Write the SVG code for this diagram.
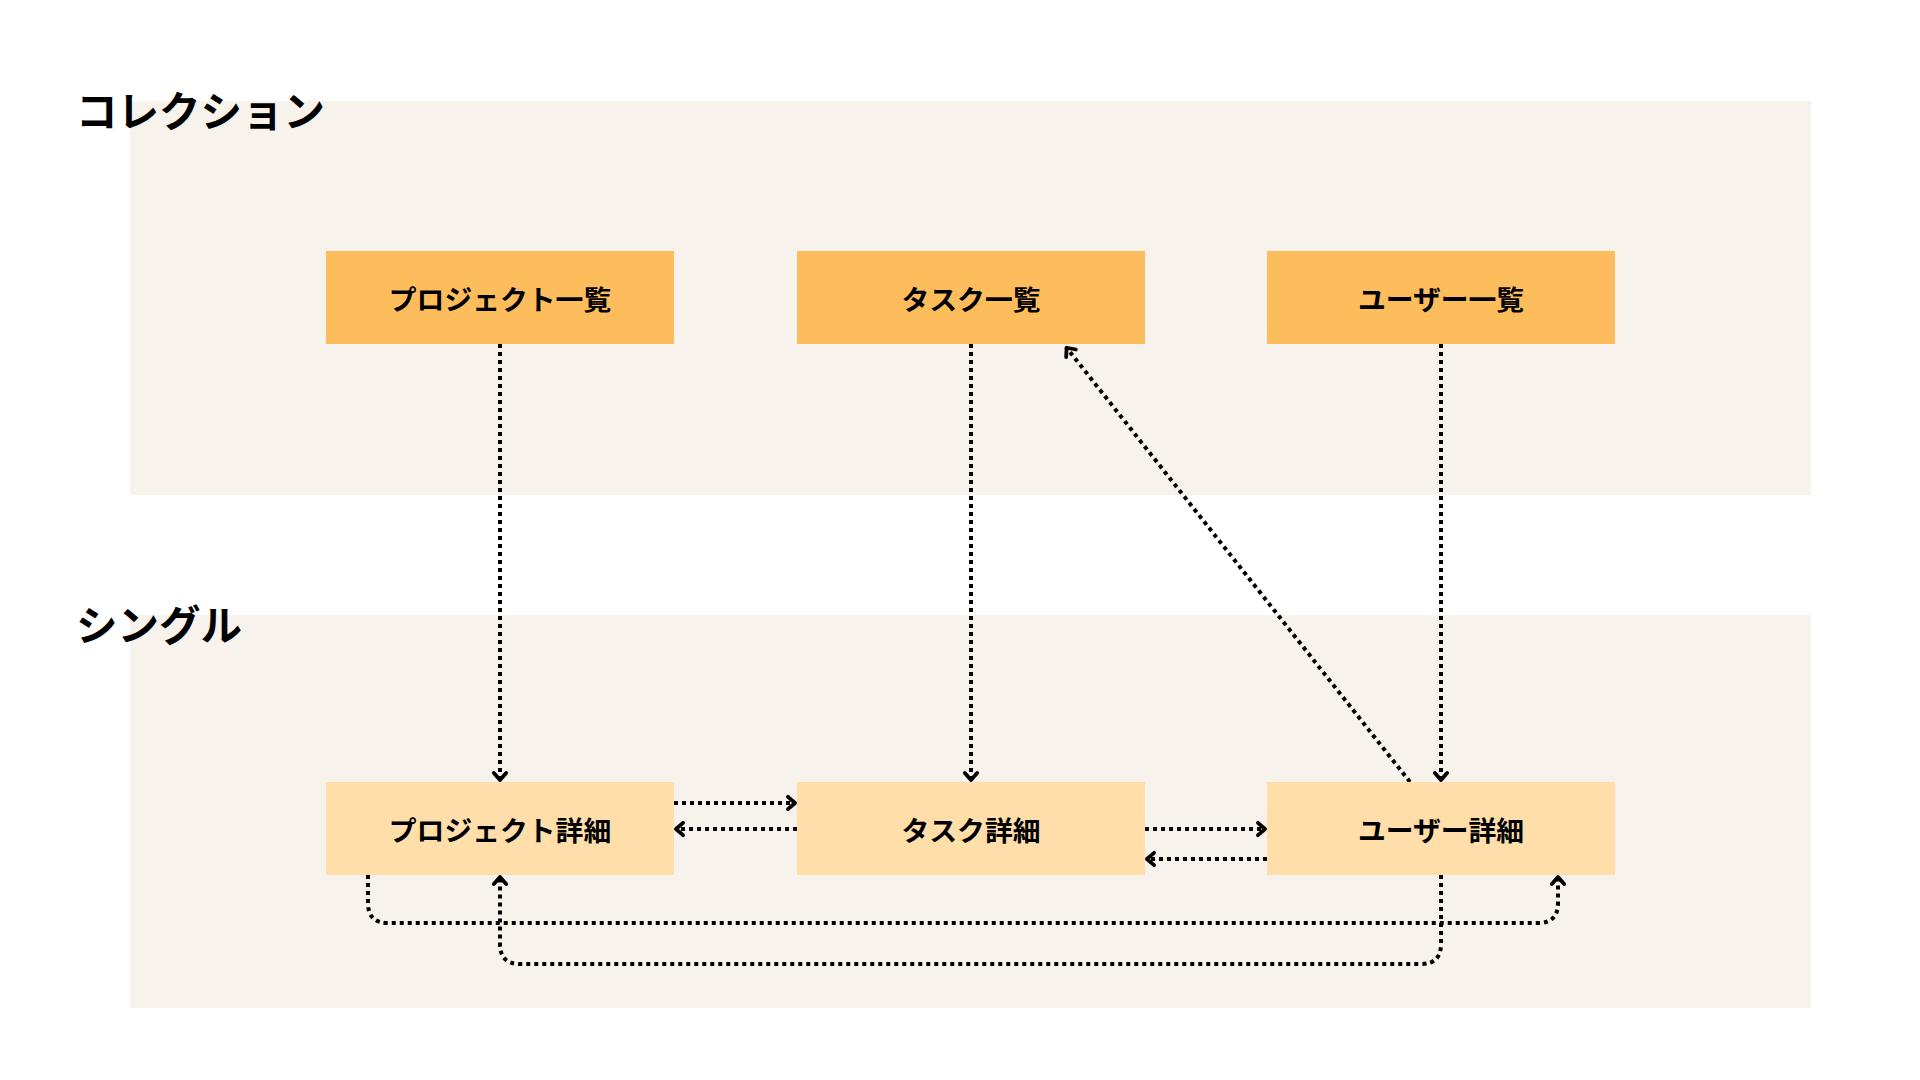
<svg xmlns="http://www.w3.org/2000/svg" width="1920" height="1080" viewBox="0 0 1920 1080">
<style>
.band{fill:#F7F2EC}
.title{font-family:"Noto Sans CJK JP","Noto Sans",sans-serif;font-weight:700;font-size:41.5px;fill:#000}
.coll{fill:#FDBD5C}
.single{fill:#FFDEAA}
.lbl{font-family:"Noto Sans CJK JP","Noto Sans",sans-serif;font-weight:700;font-size:27.8px;fill:#000;text-anchor:middle;dominant-baseline:central}
.edge{fill:none;stroke:#000;stroke-width:4;stroke-dasharray:4 4}
</style>
<defs>
<marker id="arr" markerUnits="userSpaceOnUse" markerWidth="18" markerHeight="18" viewBox="-2 -2 15 19" refX="10" refY="7.5" orient="auto">
<path d="M1.5,1 L9,7.5 L1.5,14" fill="none" stroke="#000" stroke-width="4" stroke-linecap="round" stroke-linejoin="round"/>
</marker>
</defs>
<rect width="1920" height="1080" fill="#fff"/>
<rect class="band" x="130" y="101" width="1681" height="394"/>
<rect class="band" x="130" y="615" width="1681" height="393"/>
<text class="title" x="76" y="127">コレクション</text>
<text class="title" x="76" y="641">シングル</text>
<g id="connectors">
<path class="edge" d="M500,344 V781" marker-end="url(#arr)"/>
<path class="edge" d="M971,344 V781" marker-end="url(#arr)"/>
<path class="edge" d="M1441,344 V781" marker-end="url(#arr)"/>
<path class="edge" d="M1410,782 L1066,347" marker-end="url(#arr)"/>
<path class="edge" d="M674,803 H796" marker-end="url(#arr)"/>
<path class="edge" d="M797,829 H675" marker-end="url(#arr)"/>
<path class="edge" d="M1145,829 H1266" marker-end="url(#arr)"/>
<path class="edge" d="M1267,859 H1146" marker-end="url(#arr)"/>
<path class="edge" d="M368,875 V903 Q368,923 388,923 H1538 Q1558,923 1558,903 V876" marker-end="url(#arr)"/>
<path class="edge" d="M1441,875 V944 Q1441,964 1421,964 H520 Q500,964 500,944 V876" marker-end="url(#arr)"/>
</g>
<g id="node-project-list"><rect class="coll" x="326" y="251" width="348" height="93"/><text class="lbl" x="500" y="297.5">プロジェクト一覧</text></g>
<g id="node-task-list"><rect class="coll" x="797" y="251" width="348" height="93"/><text class="lbl" x="971" y="297.5">タスク一覧</text></g>
<g id="node-user-list"><rect class="coll" x="1267" y="251" width="348" height="93"/><text class="lbl" x="1441" y="297.5">ユーザー一覧</text></g>
<g id="node-project-detail"><rect class="single" x="326" y="782" width="348" height="93"/><text class="lbl" x="500" y="828.5">プロジェクト詳細</text></g>
<g id="node-task-detail"><rect class="single" x="797" y="782" width="348" height="93"/><text class="lbl" x="971" y="828.5">タスク詳細</text></g>
<g id="node-user-detail"><rect class="single" x="1267" y="782" width="348" height="93"/><text class="lbl" x="1441" y="828.5">ユーザー詳細</text></g>
</svg>
